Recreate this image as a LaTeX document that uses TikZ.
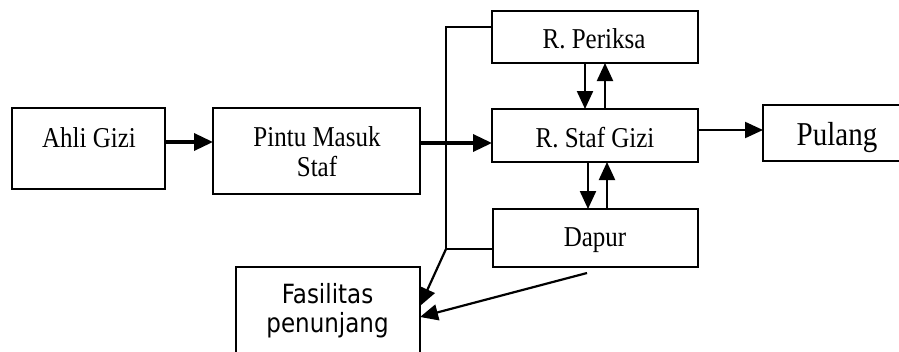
\documentclass[tikz,border=0pt]{standalone}
\usepackage{fontspec}
\usepackage{graphicx}
\setmainfont{Liberation Serif}
\newfontfamily\boxsans{DejaVu Sans}
\usetikzlibrary{arrows.meta}
% text is set slightly tall
\newcommand{\tallt}[1]{\scalebox{1}[1.15]{#1}}
\tikzset{
  box/.style={draw, line width=2pt, rectangle, inner sep=0pt, outer sep=0pt},
  lbl/.style={anchor=base, inner sep=0pt, font=\fontsize{25}{28}\selectfont},
  biglbl/.style={anchor=base, inner sep=0pt, font=\fontsize{29}{32}\selectfont},
  sanslbl/.style={anchor=base, inner sep=0pt, font=\boxsans\fontsize{23}{26}\selectfont},
  link/.style={line width=2pt},
  thinarr/.style={line width=2.2pt, -{Triangle[length=18pt,width=16pt]}},
  thickarr/.style={line width=3.5pt, -{Triangle[length=19pt,width=17pt]}},
}
\begin{document}
\begin{tikzpicture}[x=1pt, y=-1pt]
\useasboundingbox (0,0) rectangle (899,351);

% boxes
\node[box, minimum width=153pt, minimum height=81pt] (ahli) at (88.5,148.5) {};
\node[box, minimum width=207pt, minimum height=86pt] (pintu) at (316.5,151) {};
\node[box, minimum width=206pt, minimum height=52pt] (periksa) at (595,37) {};
\node[box, minimum width=206pt, minimum height=53pt] (staf) at (595,135.5) {};
\node[box, minimum width=205pt, minimum height=58pt] (dapur) at (595,238) {};
\node[box, minimum width=184pt, minimum height=93pt] (fasil) at (328,313.5) {};
\node[box, minimum width=142pt, minimum height=56pt] (pulang) at (834,133) {};

% labels
\node[lbl] (tahli) at (89,147) {\tallt{Ahli Gizi}};
\node[lbl] (tpintu) at (317,146.5)
  {\tallt{\begin{tabular}[t]{@{}c@{}}Pintu Masuk\\[-2.3pt]Staf\end{tabular}}};
\node[lbl] (tperiksa) at (594,48) {\tallt{R. Periksa}};
\node[lbl] (tstaf) at (595,147) {\tallt{R. Staf Gizi}};
\node[lbl] (tdapur) at (595,246) {\tallt{Dapur}};
\node[biglbl] (tpulang) at (837,145) {\tallt{Pulang}};
\node[sanslbl] (tfasil) at (327.5,303)
  {\tallt{\begin{tabular}[t]{@{}c@{}}Fasilitas\\penunjang\end{tabular}}};

% junction points of the side bus
\coordinate (busTop) at (446,27);
\coordinate (busBot) at (446,249);
\coordinate (dapurOut) at (587,273);

% main flow
\draw[thickarr] (ahli.east |- 0,142) -- (pintu.west |- 0,142);
\draw[thickarr] (pintu.east |- 0,143) -- (staf.west |- 0,143);
\draw[thinarr] (staf.east |- 0,130) -- (pulang.west |- 0,130);

% exchanges between rooms
\draw[thinarr] (periksa.south -| 585,0) -- (staf.north -| 585,0);
\draw[thinarr] (staf.north -| 605,0) -- (periksa.south -| 605,0);
\draw[thinarr] (staf.south -| 588,0) -- (dapur.north -| 588,0);
\draw[thinarr] (dapur.north -| 607,0) -- (staf.south -| 607,0);

% side bus to the support facilities
\draw[link] (periksa.west |- busTop) -- (busTop) -- (busBot) -- (dapur.west |- busBot);
\draw[thinarr] (busBot) -- (fasil.east |- 0,306);
\draw[thinarr] (dapurOut) -- (fasil.east |- 0,317);
\end{tikzpicture}
\end{document}
